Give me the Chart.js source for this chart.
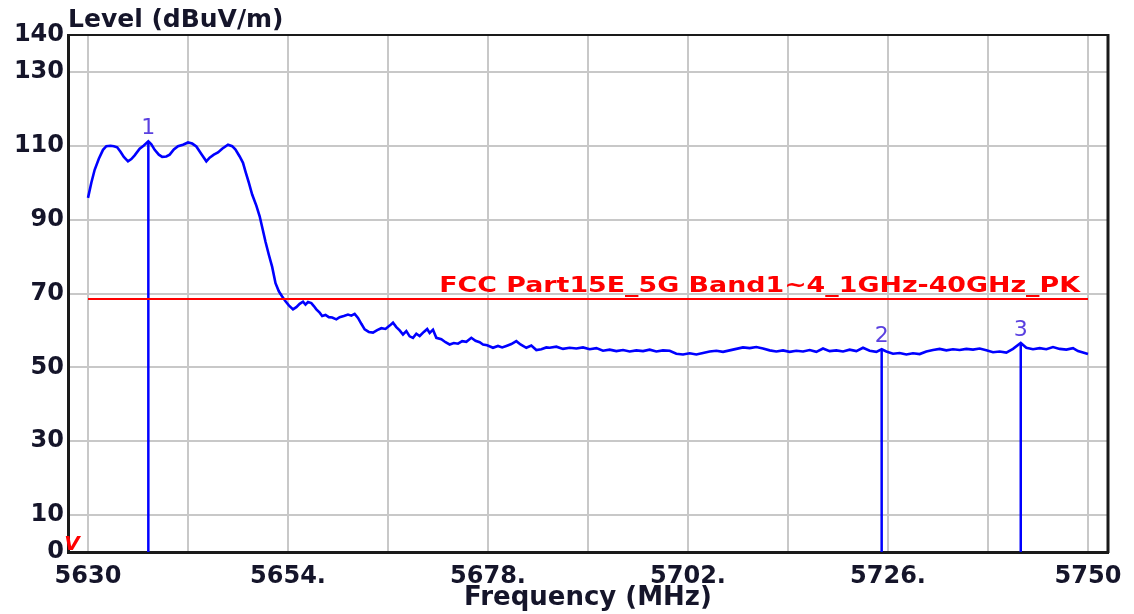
<!DOCTYPE html>
<html>
<head>
<meta charset="utf-8">
<script src="https://cdn.jsdelivr.net/npm/chart.js@4.4.1/dist/chart.umd.min.js"></script>
<style>
  html, body { margin: 0; padding: 0; background: #fff; }
</style>
</head>
<body>
<canvas id="myChart" width="1134" height="614"></canvas>
<script>
// spectrum trace (MHz, dBuV/m)
const freqMHz = [
  5630.0, 5630.4, 5630.8, 5631.3, 5631.8, 5632.2, 5632.7, 5633.1, 5633.5, 5633.9,
  5634.3, 5634.8, 5635.2, 5635.6, 5636.2, 5636.7, 5637.24, 5637.6, 5638.0, 5638.5,
  5638.9, 5639.4, 5639.8, 5640.3, 5640.8, 5641.4, 5642.0, 5642.5, 5643.0, 5643.6,
  5644.2, 5644.6, 5645.1, 5645.6, 5646.1, 5646.8, 5647.3, 5647.7, 5648.2, 5648.6,
  5648.9, 5649.3, 5649.7, 5650.2, 5650.6, 5651.0, 5651.3, 5651.7, 5652.1, 5652.5,
  5652.9, 5653.3, 5653.7, 5654.1, 5654.6, 5655.0, 5655.4, 5655.8, 5656.1, 5656.4,
  5656.8, 5657.1, 5657.4, 5657.8, 5658.1, 5658.5, 5658.9, 5659.3, 5659.8, 5660.2,
  5660.7, 5661.2, 5661.6, 5662.0, 5662.4, 5662.8, 5663.2, 5663.7, 5664.2, 5664.7,
  5665.2, 5665.7, 5666.2, 5666.6, 5667.0, 5667.4, 5667.8, 5668.2, 5668.6, 5669.0,
  5669.4, 5669.8, 5670.3, 5670.7, 5671.0, 5671.4, 5671.8, 5672.4, 5672.9, 5673.4,
  5673.9, 5674.4, 5674.9, 5675.4, 5676.0, 5676.5, 5677.0, 5677.4, 5677.9, 5678.6,
  5679.2, 5679.7, 5680.2, 5680.8, 5681.4, 5681.9, 5682.6, 5683.2, 5683.8, 5684.4,
  5685.0, 5685.4, 5686.2, 5687.0, 5687.8, 5688.6, 5689.4, 5690.2, 5691.0, 5691.8,
  5692.6, 5693.4, 5694.2, 5695.0, 5695.8, 5696.6, 5697.4, 5698.2, 5699.0, 5699.8,
  5700.6, 5701.4, 5702.2, 5703.0, 5703.8, 5704.6, 5705.4, 5706.2, 5707.0, 5707.8,
  5708.6, 5709.4, 5710.2, 5711.0, 5711.8, 5712.6, 5713.4, 5714.2, 5715.0, 5715.8,
  5716.6, 5717.4, 5718.2, 5719.0, 5719.8, 5720.6, 5721.4, 5722.2, 5723.0, 5723.8,
  5724.6, 5725.24, 5725.8, 5726.6, 5727.4, 5728.2, 5729.0, 5729.8, 5730.6, 5731.4,
  5732.2, 5733.0, 5733.8, 5734.6, 5735.4, 5736.2, 5737.0, 5737.8, 5738.6, 5739.4,
  5740.2, 5741.0, 5741.93, 5742.6, 5743.4, 5744.2, 5745.0, 5745.8, 5746.6, 5747.4,
  5748.2, 5748.8, 5749.4, 5750.0
];
const levelDb = [
  95.9, 100.0, 103.5, 106.5, 108.9, 109.9, 110.0, 109.9, 109.6, 108.4,
  107.0, 105.8, 106.4, 107.4, 109.2, 110.1, 111.2, 110.4, 108.9, 107.6,
  107.0, 107.1, 107.6, 109.0, 109.9, 110.3, 110.9, 110.6, 109.8, 107.8,
  105.8, 106.8, 107.6, 108.2, 109.2, 110.3, 109.9, 109.0, 107.1, 105.4,
  103.0, 100.0, 96.8, 93.8, 90.9, 87.0, 84.0, 80.5, 77.2, 72.8,
  70.6, 69.2, 67.9, 66.8, 65.7, 66.3, 67.2, 67.8, 67.0, 67.7,
  67.4, 66.6, 65.7, 64.8, 63.9, 64.2, 63.6, 63.5, 63.0, 63.6,
  63.9, 64.3, 64.0, 64.5, 63.4, 61.8, 60.3, 59.6, 59.4, 60.1,
  60.6, 60.4, 61.3, 62.1, 60.9, 60.0, 58.9, 59.8, 58.4, 58.0,
  59.1, 58.5, 59.6, 60.4, 59.3, 60.2, 58.0, 57.6, 56.8, 56.2,
  56.6, 56.4, 57.1, 56.9, 58.0, 57.2, 56.8, 56.2, 56.0, 55.3,
  55.8, 55.4, 55.8, 56.3, 57.1, 56.2, 55.3, 55.9, 54.7, 54.9,
  55.4, 55.3, 55.6, 55.0, 55.3, 55.1, 55.4, 54.9, 55.2, 54.5,
  54.8, 54.4, 54.7, 54.3, 54.6, 54.4, 54.8, 54.3, 54.6, 54.5,
  53.7, 53.5, 53.8, 53.5, 53.9, 54.3, 54.5, 54.2, 54.6, 55.0,
  55.4, 55.2, 55.5, 55.1, 54.6, 54.3, 54.6, 54.2, 54.5, 54.3,
  54.7, 54.2, 55.1, 54.4, 54.6, 54.3, 54.8, 54.4, 55.3, 54.5,
  54.2, 54.9, 54.3, 53.7, 53.9, 53.5, 53.8, 53.6, 54.3, 54.7,
  55.0, 54.6, 54.9, 54.7, 55.0, 54.8, 55.1, 54.6, 54.1, 54.3,
  54.0, 55.0, 56.6, 55.3, 54.9, 55.2, 54.9, 55.5, 55.0, 54.8,
  55.2, 54.4, 54.0, 53.6
];

// markers 1..3
const markerFreq = [5637.24, 5725.24, 5741.93];
const markerLevel = [111.2, 54.9, 56.6];
const markerNames = ["1", "2", "3"];

// limit line
const limitFreq = [5630, 5750];
const limitLevel = 68.5;
const limitName = "FCC Part15E_5G Band1~4_1GHz-40GHz_PK";

// axes
const xGridValues = [5630, 5642, 5654, 5666, 5678, 5690, 5702, 5714, 5726, 5738, 5750];
const xTickValues = [5630, 5654, 5678, 5702, 5726, 5750];
const xTickLabels = ["5630", "5654.", "5678.", "5702.", "5726.", "5750"];
const yTickValues = [0, 10, 30, 50, 70, 90, 110, 130, 140];

const FONT = '"DejaVu Sans", "Liberation Sans", Arial, sans-serif';
const TEXTCOLOR = '#15152a';

var traceData = freqMHz.map(function(f, i) { return { x: f, y: levelDb[i] }; });

var datasets = [{
  label: limitName,
  data: [{ x: limitFreq[0], y: limitLevel }, { x: limitFreq[1], y: limitLevel }],
  borderColor: '#ff0000',
  borderWidth: 2
}];
for (var i = 0; i < markerFreq.length; ++i) {
  datasets.push({
    label: 'Marker ' + markerNames[i],
    data: [{ x: markerFreq[i], y: 0 }, { x: markerFreq[i], y: markerLevel[i] }],
    borderColor: '#0000ff',
    borderWidth: 2.5
  });
}
datasets.push({
  label: 'Level',
  data: traceData,
  borderColor: '#0000ff',
  borderWidth: 2.6
});

// frame, titles and labels the library does not draw itself
const extras = {
  id: 'extras',
  afterDraw: function(chart) {
    const c = chart.ctx;
    const a = chart.chartArea;
    const xs = chart.scales.x;
    const ys = chart.scales.y;
    c.save();

    c.strokeStyle = '#1a1a1a';
    c.lineWidth = 2;
    c.beginPath();
    c.moveTo(a.left, a.top);
    c.lineTo(a.right, a.top);
    c.stroke();
    c.lineWidth = 3;
    c.beginPath();
    c.moveTo(a.right, a.top - 1);
    c.lineTo(a.right, a.bottom + 1);
    c.stroke();

    c.fillStyle = TEXTCOLOR;
    c.font = 'bold 25px ' + FONT;
    c.textAlign = 'left';
    c.textBaseline = 'alphabetic';
    c.fillText('Level (dBuV/m)', a.left, a.top - 8);

    // limit name, stretched a bit like the analyser font
    const ly = ys.getPixelForValue(limitLevel);
    const lx = xs.getPixelForValue(limitFreq[1]) - 8;
    c.fillStyle = '#ff0000';
    c.font = 'bold 22px ' + FONT;
    c.textAlign = 'right';
    c.translate(lx, ly - 7);
    c.scale(1.22, 1);
    c.fillText(limitName, 0, 0);
    c.setTransform(1, 0, 0, 1, 0, 0);

    c.fillStyle = '#5a40e0';
    c.font = '22px ' + FONT;
    c.textAlign = 'center';
    for (var i = 0; i < markerFreq.length; ++i) {
      c.fillText(markerNames[i], xs.getPixelForValue(markerFreq[i]), ys.getPixelForValue(markerLevel[i]) - 7);
    }

    c.fillStyle = '#ff0000';
    c.font = 'italic bold 20px ' + FONT;
    c.fillText('V', a.left + 4, a.bottom - 2);
    c.restore();
  }
};

const myChart = new Chart(document.getElementById('myChart'), {
  type: 'line',
  data: { datasets: datasets },
  plugins: [extras],
  options: {
    responsive: false,
    animation: false,
    layout: { padding: { left: 0, top: 35, right: 26, bottom: 0 } },
    elements: { point: { radius: 0 }, line: { tension: 0 } },
    plugins: { legend: { display: false }, tooltip: { enabled: false } },
    scales: {
      x: {
        type: 'linear',
        min: 5627.6,
        max: 5752.4,
        afterBuildTicks: function(s) { s.ticks = xGridValues.map(function(v) { return { value: v }; }); },
        afterFit: function(s) { s.height = 62; },
        ticks: {
          autoSkip: false,
          maxRotation: 0,
          padding: 10,
          color: TEXTCOLOR,
          font: { family: FONT, size: 24, weight: 'bold' },
          callback: function(v) {
            var k = xTickValues.indexOf(v);
            return k >= 0 ? xTickLabels[k] : '';
          }
        },
        grid: { color: '#c8c8c8', lineWidth: 2, drawTicks: false },
        border: { color: '#1a1a1a', width: 3 },
        title: {
          display: true,
          text: 'Frequency (MHz)',
          color: TEXTCOLOR,
          font: { family: FONT, size: 26, weight: 'bold', lineHeight: 1 },
          padding: { top: 0, bottom: 3 }
        }
      },
      y: {
        min: 0,
        max: 140,
        afterBuildTicks: function(s) { s.ticks = yTickValues.map(function(v) { return { value: v }; }); },
        afterFit: function(s) { s.width = 68; },
        ticks: {
          padding: 4,
          color: TEXTCOLOR,
          font: { family: FONT, size: 24, weight: 'bold' },
          callback: function(v) { return String(v); }
        },
        grid: {
          color: function(ctx) {
            if (ctx.tick && (ctx.tick.value === 0 || ctx.tick.value === 140)) return 'rgba(0,0,0,0)';
            return '#c8c8c8';
          },
          lineWidth: 2,
          drawTicks: false
        },
        border: { color: '#1a1a1a', width: 3 }
      }
    }
  }
});
</script>
</body>
</html>
